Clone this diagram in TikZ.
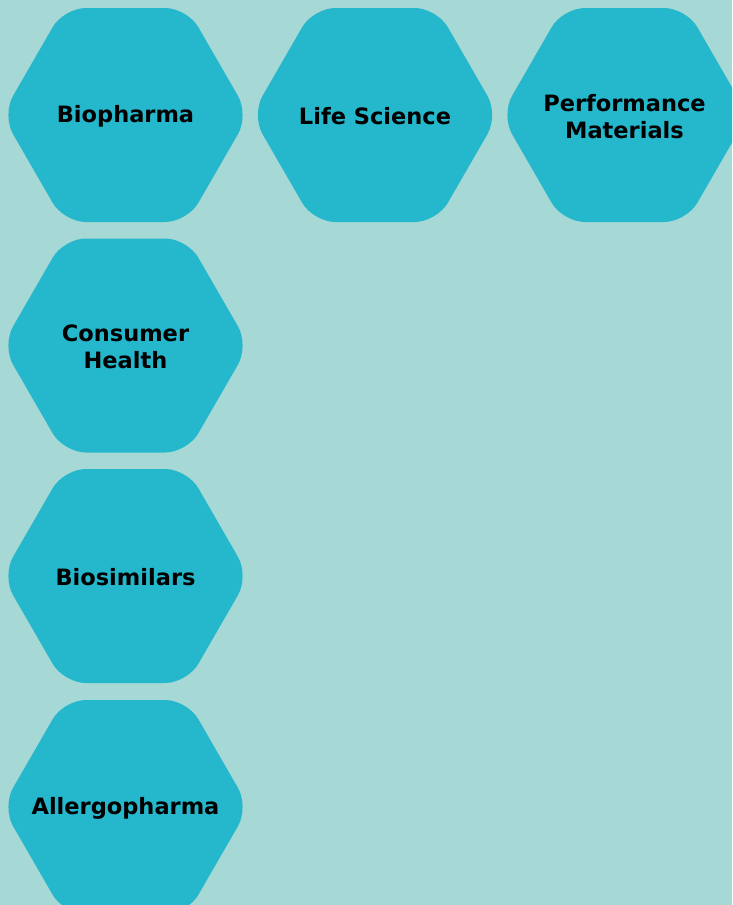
\documentclass[tikz,border=0pt]{standalone}
\usepackage{fontspec}
\setmainfont{DejaVu Sans}
\definecolor{bgteal}{HTML}{A6D8D5}
\definecolor{hexteal}{HTML}{25B7CC}

\begin{document}
\begin{tikzpicture}[x=1pt,y=1pt,
	hexa/.style={fill=hexteal,rounded corners=22pt},
	hexlabel/.style={align=center,inner sep=0,yshift=-1.5pt,font=\fontsize{22.5}{26.4}\selectfont\bfseries}]
	\fill[bgteal] (0,0) rectangle (732,-905);
	\useasboundingbox (0,0) rectangle (732,-905);
	\clip (0,0) rectangle (732,-905);
	\foreach \cx/\cy in {125.5/-115, 375/-115, 624.5/-115, 125.5/-345.5, 125.5/-576, 125.5/-807}
		\fill[hexa] (\cx,\cy) ++(-123.5,0) -- ++(61.75,107) -- ++(123.5,0) -- ++(61.75,-107) -- ++(-61.75,-107) -- ++(-123.5,0) -- cycle;
	\node[hexlabel] (biopharma) at (125.5,-115) {Biopharma};
	\node[hexlabel] (lifescience) at (375,-115) {Life Science};
	\node[hexlabel] (performance) at (624.5,-115) {Performance\\Materials};
	\node[hexlabel] (consumer) at (125.5,-345.5) {Consumer\\Health};
	\node[hexlabel] (biosimilars) at (125.5,-576) {Biosimilars};
	\node[hexlabel] (allergo) at (125.5,-807) {Allergopharma};
\end{tikzpicture}
\end{document}
